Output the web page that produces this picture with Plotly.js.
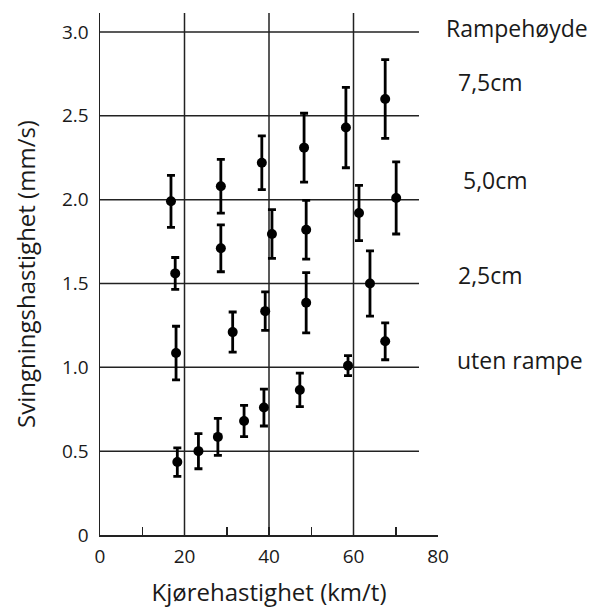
<!DOCTYPE html>
<html>
<head>
<meta charset="utf-8">
<script src="https://cdn.plot.ly/plotly-3.0.1.min.js"></script>
<style>html,body{margin:0;padding:0;background:#fff;}#chart{width:592px;height:608px;}</style>
</head>
<body>
<div id="chart"></div>
<script>
// Data (x: km/t, y: mm/s, err: symmetric error)
const x75 = [16.8, 28.6, 38.3, 48.3, 58.2, 67.5];
const y75 = [1.99, 2.08, 2.22, 2.31, 2.43, 2.60];
const e75 = [0.155, 0.16, 0.16, 0.205, 0.24, 0.235];

const x50 = [17.8, 28.6, 40.7, 48.8, 61.3, 70.1];
const y50 = [1.56, 1.71, 1.795, 1.82, 1.92, 2.01];
const e50 = [0.095, 0.14, 0.145, 0.175, 0.165, 0.215];

const x25 = [18.0, 31.4, 39.1, 48.8, 63.9];
const y25 = [1.085, 1.21, 1.335, 1.385, 1.50];
const e25 = [0.16, 0.12, 0.115, 0.18, 0.195];

const x0 = [18.3, 23.3, 27.9, 34.1, 38.8, 47.3, 58.7, 67.5];
const y0 = [0.435, 0.50, 0.585, 0.68, 0.76, 0.865, 1.01, 1.155];
const e0 = [0.085, 0.105, 0.11, 0.093, 0.11, 0.1, 0.06, 0.11];

const xTickVals = [0, 10, 20, 30, 40, 50, 60, 70, 80];
const xTickText = ['0', '', '20', '', '40', '', '60', '', '80'];
const yTickVals = [0, 0.5, 1.0, 1.5, 2.0, 2.5, 3.0];
const yTickText = ['0', '0.5', '1.0', '1.5', '2.0', '2.5', '3.0'];
const vGrid = [20, 40, 60];
const hGrid = [0.5, 1.0, 1.5, 2.0, 2.5, 3.0];

const labels = ['Rampehøyde', '7,5cm', '5,0cm', '2,5cm', 'uten rampe'];
const labelY = [3.025, 2.70, 2.12, 1.55, 1.045];
const labelX = [1.018, 1.052, 1.067, 1.052, 1.05];

const FONT = 'Open Sans, Noto Sans, sans-serif';
const INK = '#1a1a1a';

function series(x, y, e) {
  return {
    type: 'scatter', mode: 'markers', x: x, y: y,
    marker: {color: '#000', size: 10},
    error_y: {type: 'data', array: e, visible: true, color: '#000', thickness: 2.8, width: 4},
    showlegend: false, hoverinfo: 'skip'
  };
}

const traces = [series(x75, y75, e75), series(x50, y50, e50), series(x25, y25, e25), series(x0, y0, e0)];

const shapes = [];
hGrid.forEach(v => shapes.push({type: 'line', xref: 'x', yref: 'y', x0: 0, x1: 75.5, y0: v, y1: v, line: {color: '#222', width: 1.5}, layer: 'below'}));
vGrid.forEach(v => shapes.push({type: 'line', xref: 'x', yref: 'paper', x0: v, x1: v, y0: 0, y1: 1, line: {color: '#222', width: 1.5}, layer: 'below'}));

const annotations = labels.map((t, i) => ({
  text: t, xref: 'paper', yref: 'y', x: labelX[i], y: labelY[i],
  xanchor: 'left', yanchor: 'middle', showarrow: false,
  font: {family: FONT, size: 23, color: INK}
}));

const layout = {
  width: 592, height: 608,
  margin: {l: 100, r: 154, t: 13, b: 73},
  paper_bgcolor: '#fff', plot_bgcolor: '#fff',
  font: {family: FONT, color: INK},
  xaxis: {
    range: [0, 80], showgrid: false, zeroline: false,
    showline: true, linecolor: '#222', linewidth: 1.5,
    tickmode: 'array', tickvals: xTickVals, ticktext: xTickText,
    ticks: 'inside', ticklen: 8, tickwidth: 1.5, tickcolor: '#222',
    ticklabelstandoff: 4,
    tickfont: {family: FONT, size: 19, color: INK},
    title: {text: 'Kjørehastighet (km/t)', font: {family: FONT, size: 24, color: INK}, standoff: 16}
  },
  yaxis: {
    range: [0, 3.113], showgrid: false, zeroline: false,
    showline: true, linecolor: '#222', linewidth: 1.5,
    tickmode: 'array', tickvals: yTickVals, ticktext: yTickText,
    ticks: '', ticklabelstandoff: 6,
    tickfont: {family: FONT, size: 19, color: INK},
    title: {text: 'Svingningshastighet (mm/s)', font: {family: FONT, size: 24, color: INK}, standoff: 19}
  },
  shapes: shapes,
  annotations: annotations
};

Plotly.newPlot('chart', traces, layout, {displayModeBar: false, staticPlot: true});
</script>
</body>
</html>
